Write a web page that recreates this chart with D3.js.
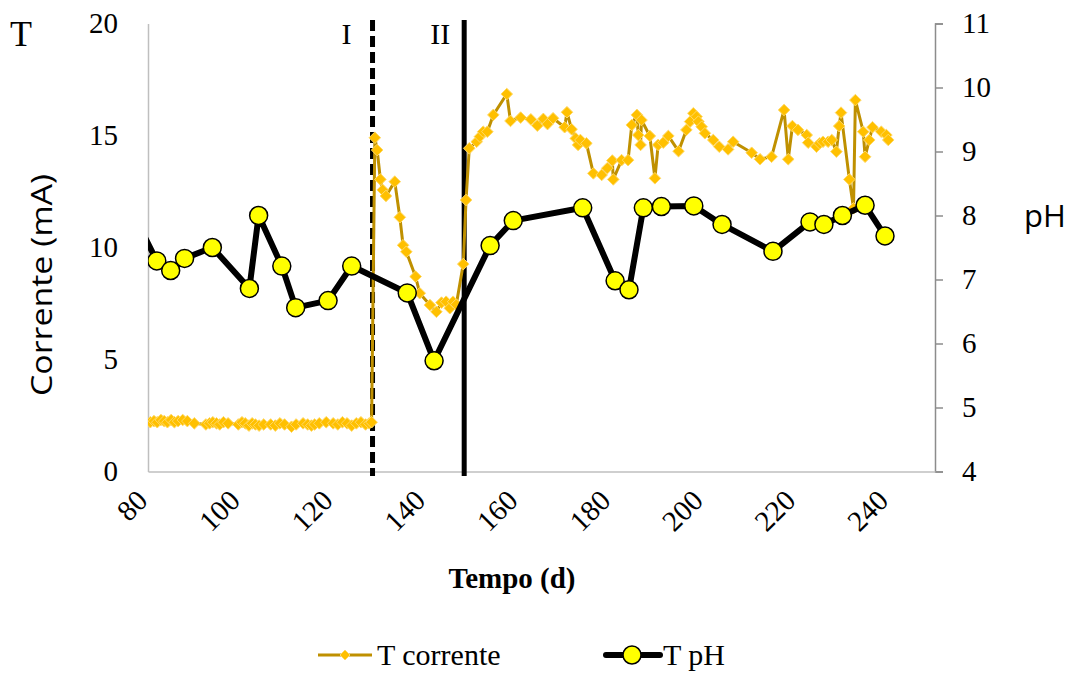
<!DOCTYPE html>
<html><head><meta charset="utf-8">
<script src="https://cdn.jsdelivr.net/npm/d3@7"></script>
<style>body{margin:0;background:#fff}svg{display:block}
.sf{font-family:"Liberation Serif","DejaVu Serif","Times New Roman",serif}
.ss{font-family:"Open Sans","Liberation Sans",sans-serif}
</style>
</head><body>
<script>
// ---- data ----
const currentDays = [80.5,81.3,82,82.8,83.5,84.2,85,85.7,86.5,87.5,88.5,90,92.5,93.3,94,94.8,95.5,96.3,97.3,99.5,100.3,101,101.8,102.5,103.2,104,105,106.5,107.5,108.5,109.5,111,112,113.5,114.5,115.3,116,117,118.5,120,121,122,123,124,125,126,127,127.8,128.3,
129,129.5,130.2,130.7,131.4,133.3,134.4,135.1,135.8,137.8,138.7,140.9,142.3,143.4,144.4,145.2,145.9,146.6,148.1,148.7,149.4,151,151.7,152.4,153.3,154.6,157.5,158.3,160.5,162.7,164.1,165.4,166.3,167.5,170,170.5,171.5,172.4,172.9,173.4,174.7,176.2,178,179.2,180.3,180.5,182.3,183.7,184.5,185.6,185.9,186.4,186.6,188.4,189.5,190.2,191.3,192.4,194.6,196.3,197.1,197.8,198.5,198.9,199.6,200.3,202.1,203.4,205.3,206.4,210.4,212.2,214.7,217.4,218.3,219.2,220.4,222.3,222.6,224.4,225.1,225.8,226.9,227.7,228.7,229.3,229.7,231.5,232.4,232.8,234.5,234.9,235.8,236.5,238.4,239.5,239.9];
const currentValues = [2.2,2.25,2.2,2.3,2.25,2.2,2.3,2.2,2.25,2.3,2.25,2.15,2.1,2.15,2.2,2.15,2.1,2.2,2.15,2.1,2.2,2.15,2.05,2.15,2.1,2.05,2.1,2.1,2.05,2.15,2.1,2.0,2.1,2.15,2.1,2.05,2.1,2.15,2.2,2.15,2.1,2.2,2.15,2.05,2.15,2.2,2.1,2.15,2.2,
14.9,14.35,13.04,12.57,12.3,12.94,11.35,10.1,9.81,8.7,7.96,7.43,7.13,7.54,7.58,7.29,7.58,7.45,9.26,12.12,14.43,14.72,14.95,15.17,15.17,15.92,16.85,15.65,15.8,15.72,15.44,15.74,15.51,15.77,15.37,16.04,15.28,14.87,14.58,14.8,14.65,13.31,13.24,13.54,13.88,13.04,13.9,13.9,15.47,15.92,15.02,14.58,15.69,14.98,13.09,14.58,14.68,14.98,14.3,15.25,15.62,15.99,15.84,15.62,15.39,15.1,14.8,14.5,14.38,14.72,14.23,13.94,14.05,16.14,13.94,15.42,15.25,15.02,14.68,14.5,14.65,14.72,14.72,14.8,14.28,15.42,16.02,13.04,11.75,16.58,15.17,14.05,14.8,15.37,15.17,15.02,14.8];
const phDays = [78,81.9,84.9,87.9,93.9,101.9,103.9,108.9,111.9,118.9,124,136,141.8,153.9,158.9,173.9,180.9,183.9,187,190.9,197.9,204,215,223,226,230,234.9,239.2];
const phValues = [7.85,7.29,7.14,7.33,7.5,6.86,8.0,7.21,6.56,6.67,7.21,6.79,5.73,7.53,7.92,8.12,6.98,6.84,8.12,8.14,8.15,7.86,7.44,7.9,7.86,8.0,8.16,7.68];
const xTicks = [80,100,120,140,160,180,200,220,240];
const leftTicks = [0,5,10,15,20];
const rightTicks = [4,5,6,7,8,9,10,11];
const phaseDays = [128.5,148.3];
const phaseLabels = ["I","II"];

const W=1076,H=673;
const svg=d3.select("body").append("svg").attr("width",W).attr("height",H);
const L=148,R=935,T=23.5,B=471.5;
const x=d3.scaleLinear().domain([80,250]).range([L,R]);
const yL=d3.scaleLinear().domain([0,20]).range([B,T]);
const yR=d3.scaleLinear().domain([4,11]).range([B,T]);

svg.append("defs").append("clipPath").attr("id","clip").append("rect")
  .attr("x",L).attr("y",T-15).attr("width",R-L).attr("height",B-T+15);

// axes
const axL=svg.append("g").attr("transform",`translate(${L},0)`).call(d3.axisLeft(yL).tickValues(leftTicks).tickSize(0).tickPadding(30));
axL.attr("font-family",null).attr("font-size",null);
axL.select(".domain").attr("stroke","#bfbfbf").attr("stroke-width",1.5);
axL.selectAll("text").attr("class","sf").style("font-size","29px").attr("fill","#000");
const axR=svg.append("g").attr("transform",`translate(${R},0)`).call(d3.axisRight(yR).tickValues(rightTicks).tickSize(8).tickPadding(19).tickFormat(d3.format("d")));
axR.attr("font-family",null).attr("font-size",null);
axR.select(".domain").attr("stroke","#8c8c8c").attr("stroke-width",1.5);
axR.selectAll("line").attr("stroke","#8c8c8c").attr("stroke-width",1.5);
axR.selectAll("text").attr("class","sf").style("font-size","29px").attr("fill","#000");
const axB=svg.append("g").attr("transform",`translate(0,${B})`).call(d3.axisBottom(x).tickValues(xTicks).tickSize(0).tickFormat(d3.format("d")));
axB.attr("font-family",null).attr("font-size",null);
axB.select(".domain").attr("stroke","#bfbfbf").attr("stroke-width",1.5);
axB.selectAll("text").attr("class","sf").style("font-size","29px").attr("fill","#000")
  .attr("text-anchor","end").attr("dy",null).attr("y",null)
  .attr("transform","translate(-4,26) rotate(-45)").attr("dominant-baseline","middle");

// phase lines
const labelShift = [-21,-14];
phaseDays.forEach((d,i)=>{
  svg.append("line").attr("x1",x(d)).attr("x2",x(d)).attr("y1",20).attr("y2",476)
    .attr("stroke","#000").attr("stroke-width",5).attr("stroke-dasharray",i===0?"11,5":null);
  svg.append("text").attr("class","sf").attr("x",x(d)+labelShift[i]).attr("y",44).attr("text-anchor","end")
    .style("font-size","30px").text(phaseLabels[i]);
});

const g=svg.append("g").attr("clip-path","url(#clip)");
const cur=currentDays.map((d,i)=>({d,v:currentValues[i]}));
const ph=phDays.map((d,i)=>({d,v:phValues[i]}));
g.append("path").datum(cur).attr("fill","none").attr("stroke","#BF9000").attr("stroke-width",3)
  .attr("d",d3.line().x(p=>x(p.d)).y(p=>yL(p.v)));
const dia=r=>`M0,${-r}L${r},0L0,${r}L${-r},0Z`;
g.selectAll(".dm").data(cur).join("path").attr("d",dia(5.8))
  .attr("transform",p=>`translate(${x(p.d)},${yL(p.v)})`)
  .attr("fill","#FFC000").attr("stroke","#FFD966").attr("stroke-width",1);
g.append("path").datum(ph).attr("fill","none").attr("stroke","#000").attr("stroke-width",6).attr("stroke-linejoin","round")
  .attr("d",d3.line().x(p=>x(p.d)).y(p=>yR(p.v)));
g.selectAll(".pc").data(ph.filter(p=>p.d>=80)).join("circle").attr("cx",p=>x(p.d)).attr("cy",p=>yR(p.v)).attr("r",9)
  .attr("fill","#FFFF00").attr("stroke","#000").attr("stroke-width",1.5);

// labels
svg.append("text").attr("class","sf").attr("x",10).attr("y",46).style("font-size","36px").text("T");
svg.append("text").attr("class","ss").attr("transform","translate(52,285) rotate(-90)").attr("text-anchor","middle")
  .style("font-size","30px").attr("textLength",222).attr("lengthAdjust","spacingAndGlyphs").text("Corrente (mA)");
svg.append("text").attr("class","ss").attr("x",1024).attr("y",227).style("font-size","31px").text("pH");
svg.append("text").attr("class","sf").attr("x",512).attr("y",588).attr("text-anchor","middle")
  .style("font-weight","bold").style("font-size","29px").text("Tempo (d)");

// legend
const ly=655;
svg.append("line").attr("x1",318).attr("x2",372).attr("y1",ly).attr("y2",ly).attr("stroke","#BF9000").attr("stroke-width",3);
svg.append("path").attr("d",dia(5)).attr("transform",`translate(345,${ly})`).attr("fill","#FFC000").attr("stroke","#FFD966");
svg.append("text").attr("class","sf").attr("x",377).attr("y",ly+10).style("font-size","30px").text("T corrente");
svg.append("line").attr("x1",606).attr("x2",660).attr("y1",ly).attr("y2",ly).attr("stroke","#000").attr("stroke-width",6).attr("stroke-linecap","round");
svg.append("circle").attr("cx",632).attr("cy",ly).attr("r",9).attr("fill","#FFFF00").attr("stroke","#000").attr("stroke-width",1.5);
svg.append("text").attr("class","sf").attr("x",663).attr("y",ly+10).style("font-size","30px").text("T pH");
</script>
</body></html>
